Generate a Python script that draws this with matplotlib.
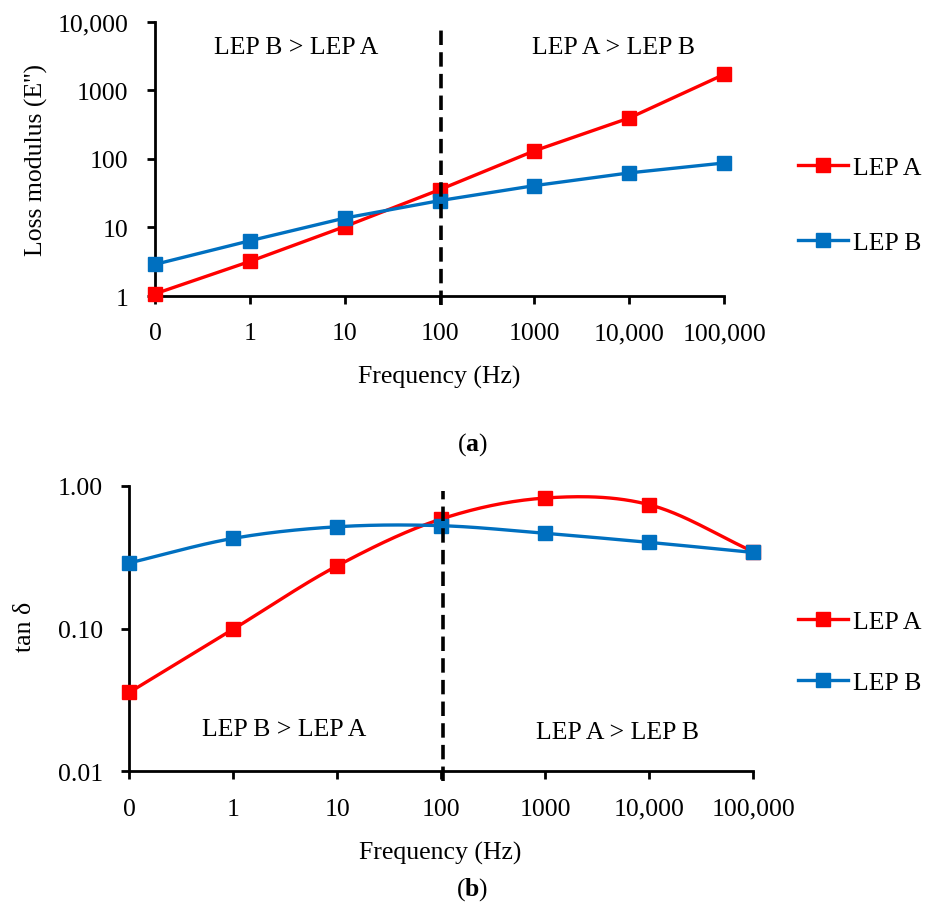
import numpy as np
import matplotlib
matplotlib.use("Agg")
import matplotlib.pyplot as plt
from matplotlib.ticker import FixedLocator, FixedFormatter, NullLocator

plt.rcParams['font.family'] = ['Liberation Serif', 'DejaVu Serif']
plt.rcParams['mathtext.fontset'] = 'custom'
plt.rcParams['mathtext.rm'] = 'Liberation Serif'
plt.rcParams['mathtext.bf'] = 'Liberation Serif:bold'
fs = 18.5
plt.rcParams['font.size'] = fs

# frequency categories (Hz)
freq_labels = ['0', '1', '10', '100', '1000', '10,000', '100,000']

# (a) loss modulus E''
loss_a = [1.08, 3.2, 10.3, 35.5, 131, 394, 1700]
loss_b = [2.9, 6.4, 13.7, 24.6, 40.7, 62.4, 87]

# (b) tan delta
tan_a = [0.0357, 0.099, 0.275, 0.585, 0.82, 0.736, 0.345]
tan_b = [0.288, 0.428, 0.516, 0.525, 0.464, 0.401, 0.341]

red = '#FF0000'
blue = '#0070C0'
lw = 2.4
ms = 9.5


def smooth(x, y, n=30):
    # catmull-rom through the points in (x, log y), like excel's smoothed line
    x = np.asarray(x, float)
    ly = np.log10(np.asarray(y, float))
    px = np.concatenate([[2 * x[0] - x[1]], x, [2 * x[-1] - x[-2]]])
    py = np.concatenate([[2 * ly[0] - ly[1]], ly, [2 * ly[-1] - ly[-2]]])
    xs, ys = [], []
    t = np.linspace(0, 1, n)
    for i in range(1, len(px) - 2):
        for p, out in ((px, xs), (py, ys)):
            p0, p1, p2, p3 = p[i - 1], p[i], p[i + 1], p[i + 2]
            out.extend(0.5 * (2 * p1 + (-p0 + p2) * t
                              + (2 * p0 - 5 * p1 + 4 * p2 - p3) * t ** 2
                              + (-p0 + 3 * p1 - 3 * p2 + p3) * t ** 3))
    return np.array(xs), 10 ** np.array(ys)


def style_axes(ax, yticks, ylabels):
    x = np.arange(len(freq_labels))
    ax.set_yscale('log')
    ax.set_xlim(x[0], x[-1])
    ax.set_ylim(yticks[0], yticks[-1])
    ax.yaxis.set_major_locator(FixedLocator(yticks))
    ax.yaxis.set_major_formatter(FixedFormatter(ylabels))
    ax.yaxis.set_minor_locator(NullLocator())
    ax.set_xticks(x)
    ax.set_xticklabels(freq_labels)
    for s in ['top', 'right']:
        ax.spines[s].set_visible(False)
    for s in ['left', 'bottom']:
        ax.spines[s].set_linewidth(2)
    ax.tick_params(axis='y', length=6, width=2, pad=13, labelsize=fs)
    ax.tick_params(axis='x', length=6, width=2, pad=13, labelsize=fs)


fig = plt.figure(figsize=(9.3, 9.03), dpi=100)
x = np.arange(len(freq_labels))

# ---- (a) ----
ax1 = fig.add_axes([0.1667, 0.671, 0.612, 0.304])
ax1.plot(x, loss_a, color=red, lw=lw, marker='s', ms=ms, label='LEP A', clip_on=False, zorder=3)
ax1.plot(x, loss_b, color=blue, lw=lw, marker='s', ms=ms, label='LEP B', clip_on=False, zorder=3)
style_axes(ax1, [1, 10, 100, 1000, 10000], ['1', '10', '100', '1000', '10,000'])
ax1.axvline(3.015, ymin=-0.032, ymax=0.99, color='black', lw=2.6, dashes=(4, 2), clip_on=False, zorder=4)
ax1.text(0.248, 0.909, 'LEP B > LEP A', transform=ax1.transAxes, ha='center', va='center')
ax1.text(0.806, 0.909, 'LEP A > LEP B', transform=ax1.transAxes, ha='center', va='center')
ax1.set_ylabel("Loss modulus (E'')")
ax1.yaxis.set_label_coords(-0.208, 0.5)
ax1.yaxis.label.set_va('center')
ax1.set_xlabel('Frequency (Hz)')
ax1.xaxis.set_label_coords(0.5, -0.294)
ax1.xaxis.label.set_va('center')
ax1.legend(loc='center left', bbox_to_anchor=(798 / 930, 1 - 206 / 903), bbox_transform=fig.transFigure,
           frameon=False, borderpad=0, borderaxespad=0, handlelength=1.95, handletextpad=0.2,
           labelspacing=2.05, fontsize=fs)

# ---- (b) ----
ax2 = fig.add_axes([0.139, 0.1447, 0.671, 0.3163])
sx, sy = smooth(x, tan_a)
ax2.plot(sx, sy, color=red, lw=lw, clip_on=False, zorder=3)
ax2.plot(x, tan_a, color=red, lw=0, marker='s', ms=ms, clip_on=False, zorder=3)
sx, sy = smooth(x, tan_b)
ax2.plot(sx, sy, color=blue, lw=lw, clip_on=False, zorder=3)
ax2.plot(x, tan_b, color=blue, lw=0, marker='s', ms=ms, clip_on=False, zorder=3)
ax2.plot([], [], color=red, lw=lw, marker='s', ms=ms, label='LEP A')
ax2.plot([], [], color=blue, lw=lw, marker='s', ms=ms, label='LEP B')
style_axes(ax2, [0.01, 0.1, 1.0], ['0.01', '0.10', '1.00'])
ax2.axvline(3.015, ymin=-0.033, ymax=0.982, color='black', lw=2.6, dashes=(4, 2), clip_on=False, zorder=4)
ax2.text(0.249, 0.148, 'LEP B > LEP A', transform=ax2.transAxes, ha='center', va='center')
ax2.text(0.783, 0.139, 'LEP A > LEP B', transform=ax2.transAxes, ha='center', va='center')
ax2.set_ylabel('tan δ')
ax2.yaxis.set_label_coords(-0.167, 0.51)
ax2.yaxis.label.set_va('center')
ax2.set_xlabel('Frequency (Hz)')
ax2.xaxis.set_label_coords(0.498, -0.283)
ax2.xaxis.label.set_va('center')
ax2.legend(loc='center left', bbox_to_anchor=(798 / 930, 1 - 653 / 903), bbox_transform=fig.transFigure,
           frameon=False, borderpad=0, borderaxespad=0, handlelength=1.95, handletextpad=0.2,
           labelspacing=1.5, fontsize=fs)

fig.text(472.7 / 930, 1 - 445 / 903, r'($\mathbf{a}$)', ha='center', va='center', fontsize=fs)
fig.text(472 / 930, 1 - 890 / 903, r'($\mathbf{b}$)', ha='center', va='center', fontsize=fs)

fig.savefig('out.png', dpi=100)
